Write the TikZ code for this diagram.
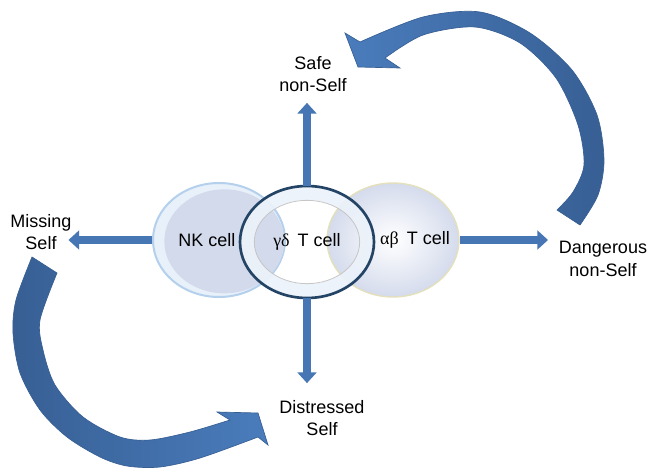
\documentclass[tikz,border=0pt]{standalone}
\usepackage{fontspec}
\setmainfont{Liberation Sans}
\newfontfamily\greekfont{Liberation Serif}
\usetikzlibrary{shapes.geometric,arrows.meta}
\definecolor{arrowblue}{RGB}{74,124,188}
\definecolor{arrowdark}{RGB}{55,95,148}
\definecolor{edgeblue}{RGB}{70,119,180}
\definecolor{nkfill}{RGB}{211,218,236}
\definecolor{nklight}{RGB}{232,240,250}
\definecolor{nkrim}{RGB}{180,208,236}
\definecolor{abfill}{RGB}{212,219,236}
\definecolor{abrim}{RGB}{228,224,186}
\definecolor{gdring}{RGB}{36,68,102}
\definecolor{gdwhite}{RGB}{236,242,250}

\begin{document}
\begin{tikzpicture}[x=0.75pt,y=-0.75pt]
	\tikzstyle{cell} = [ellipse, minimum width=99pt, minimum height=85.5pt, inner sep=0pt]
	\tikzstyle{celltext} = [inner sep=0pt, font=\fontsize{13.5}{16}\selectfont]
	\tikzstyle{outcome} = [align=center, inner sep=0pt, font=\fontsize{13.5}{17}\selectfont]
	\tikzstyle{edge} = [line width=6pt, edgeblue, -{Triangle[width=14pt,length=8pt]}]
	\tikzstyle{bigarrow} = [draw=arrowdark, line width=0.5pt]

	\useasboundingbox[fill=white] (0,0) rectangle (650,468);

	% big curved arrows
	\path[bigarrow, left color=arrowblue, right color=arrowdark]
		plot[smooth] coordinates {(580,225) (598,195) (604,160) (597,115) (572,70) (530,33) (480,12) (423,17) (360,42)}
		-- (345,33) -- (358,67) -- (400,68) -- (385,58)
		-- plot[smooth] coordinates {(385,58) (423,35) (475,27) (520,43) (556,78) (578,125) (584,165) (573,192) (557,210)}
		-- cycle;
	\path[bigarrow, left color=arrowdark, right color=arrowblue]
		plot[smooth] coordinates {(32,257) (16,300) (13,333) (20,373) (40,410) (67,437) (100,457) (127,466) (160,467) (200,458) (258,437)}
		-- (268,445) -- (258,413) -- (217,412) -- (230,420)
		-- plot[smooth] coordinates {(230,420) (190,432) (150,440) (120,437) (83,417) (55,385) (43,350) (40,320) (57,273)}
		-- cycle;

	% cells
	\node[cell, fill=nklight, draw=nkrim, line width=1.5pt] (nk) at (219,240) {};
	\fill[nkfill] ([xshift=4pt,yshift=-1pt]nk.center) ellipse [x radius=45pt, y radius=39pt];
	\node[cell, inner color=white, outer color=abfill, draw=abrim, line width=1pt] (ab) at (393,240) {};
	\node[cell, minimum width=100.5pt, minimum height=84pt] (gd) at (307,242) {};
	\draw[gdwhite, line width=10.5pt, opacity=0.92] (gd.center) ellipse [x radius=45pt, y radius=36.75pt];
	\draw[gray!45, line width=0.6pt] (gd.center) ellipse [x radius=39.5pt, y radius=31.25pt];
	\draw[gdring, line width=2pt] (gd.center) ellipse [x radius=50.25pt, y radius=42pt];

	\node[celltext] (nklabel) at ([xshift=-9pt]nk.center) {NK cell};
	\node[celltext] (gdlabel) at (gd.center) {{\greekfont γδ}\hspace{6pt}T cell};
	\node[celltext] (ablabel) at ([xshift=16.5pt]ab.center) {{\greekfont αβ}\hspace{6pt}T cell};

	% outcomes
	\foreach \name/\x/\y/\txt in {safe/313/74/{Safe\\non-Self}, missing/41/232/{Missing\\Self}, dangerous/603/259/{Dangerous\\non-Self}, distressed/322/418/{Distressed\\Self}}
		\node[outcome] (\name) at (\x,\y) {\txt};

	\draw[edge, shorten >=8pt] (gd.north) -- (gd.north |- safe.south);
	\draw[edge, shorten >=12.5pt] (gd.south) -- (gd.south |- distressed.north);
	\draw[edge, shorten >=-2.5pt] (nk.west) -- (nk.west -| missing.east);
	\draw[edge, shorten >=8pt] (ab.east) -- (ab.east -| dangerous.west);

\end{tikzpicture}
\end{document}
